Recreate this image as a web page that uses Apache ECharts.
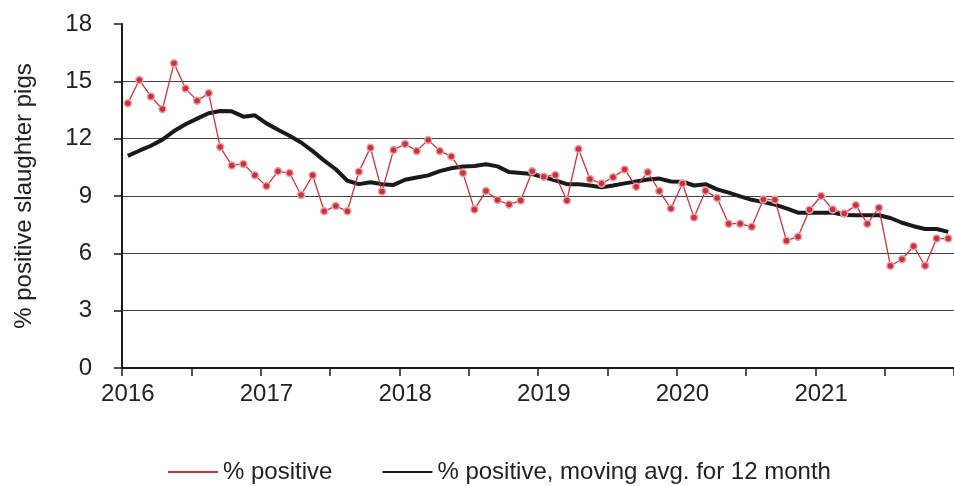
<!DOCTYPE html>
<html>
<head>
<meta charset="utf-8">
<script src="https://cdn.jsdelivr.net/npm/echarts@6/dist/echarts.min.js"></script>
<style>
  html, body { margin: 0; padding: 0; background: #fff; }
  #main { width: 954px; height: 486px; }
</style>
</head>
<body>
<div id="main"></div>
<script>
var years = ['2016', '2017', '2018', '2019', '2020', '2021'];

// one category per month, Jan 2016 .. Dec 2021
var months = [];
years.forEach(function (y) {
  for (var m = 1; m <= 12; m++) months.push(y + '-' + (m < 10 ? '0' + m : m));
});

var positive = [
  13.85, 15.07, 14.2, 13.55, 15.94, 14.62, 13.99, 14.37, 11.56, 10.6, 10.68, 10.08,
  9.52, 10.29, 10.2, 9.05, 10.08, 8.2, 8.48, 8.2, 10.27, 11.53, 9.23, 11.41,
  11.72, 11.36, 11.93, 11.36, 11.07, 10.2, 8.3, 9.26, 8.79, 8.55, 8.77, 10.29,
  10.01, 10.1, 8.77, 11.46, 9.89, 9.65, 9.98, 10.39, 9.49, 10.24, 9.26, 8.34,
  9.65, 7.87, 9.27, 8.9, 7.55, 7.55, 7.39, 8.82, 8.81, 6.66, 6.87, 8.28,
  9.0, 8.3, 8.09, 8.51, 7.55, 8.39, 5.35, 5.69, 6.37, 5.35, 6.77, 6.77
];

var movingAvg = [
  11.1, 11.37, 11.63, 11.95, 12.4, 12.75, 13.05, 13.33, 13.45, 13.43, 13.15, 13.22,
  12.8, 12.47, 12.15, 11.8, 11.35, 10.85, 10.4, 9.8, 9.62, 9.72, 9.62, 9.58,
  9.85, 9.97, 10.08, 10.3, 10.45, 10.54, 10.57, 10.66, 10.55, 10.25, 10.2, 10.15,
  9.98, 9.82, 9.62, 9.61, 9.55, 9.45, 9.55, 9.66, 9.76, 9.86, 9.91, 9.76,
  9.75, 9.55, 9.62, 9.35, 9.18, 8.98, 8.8, 8.68, 8.55, 8.35, 8.13, 8.13,
  8.13, 8.13, 8.0, 7.99, 7.99, 7.99, 7.85, 7.6, 7.42, 7.27, 7.27, 7.12
];

var font = 'Liberation Sans';
var myChart = echarts.init(document.getElementById('main'));

myChart.setOption({
  animation: false,
  textStyle: { fontFamily: font },
  grid: { left: 122, right: 0, top: 24, bottom: 118 },
  legend: {
    left: 163,
    top: 455,
    icon: 'rect',
    itemWidth: 50,
    itemHeight: 2,
    itemGap: 50,
    textStyle: { fontSize: 24, color: '#222', fontFamily: font },
    data: [
      { name: '% positive', itemStyle: { color: '#c8353f', borderWidth: 0 } },
      { name: '% positive, moving avg. for 12 month', itemStyle: { color: '#1a1a1a', borderWidth: 0 } }
    ]
  },
  xAxis: {
    type: 'category',
    data: months,
    boundaryGap: true,
    axisLine: { show: true, lineStyle: { color: '#1a1a1a', width: 2 } },
    axisTick: { show: true, inside: false, interval: 5, length: 8, lineStyle: { color: '#1a1a1a', width: 1.5 } },
    axisLabel: {
      interval: 11,
      margin: 14,
      fontSize: 24,
      color: '#222',
      formatter: function (v) { return v.slice(0, 4); }
    },
    splitLine: { show: false }
  },
  yAxis: {
    type: 'value',
    min: 0,
    max: 18,
    interval: 3,
    name: '% positive slaughter pigs',
    nameLocation: 'middle',
    nameRotate: 90,
    nameGap: 86,
    nameTextStyle: { fontSize: 24, color: '#222' },
    axisLine: { show: true, lineStyle: { color: '#1a1a1a', width: 2 } },
    axisTick: { show: true, inside: false, length: 8, lineStyle: { color: '#1a1a1a', width: 1.5 } },
    axisLabel: { margin: 30, fontSize: 24, color: '#222' },
    splitLine: { show: true, showMaxLine: false, lineStyle: { color: '#444', width: 1 } }
  },
  series: [
    {
      name: '% positive',
      type: 'line',
      data: positive,
      symbol: 'circle',
      symbolSize: 7,
      lineStyle: { color: '#c8353f', width: 1.3 },
      itemStyle: { color: '#c8323c', borderColor: '#eba3a6', borderWidth: 1.5 },
      z: 3
    },
    {
      name: '% positive, moving avg. for 12 month',
      type: 'line',
      data: movingAvg,
      showSymbol: false,
      symbol: 'none',
      lineStyle: { color: '#1a1a1a', width: 4 },
      itemStyle: { color: '#1a1a1a' },
      z: 2
    }
  ]
});
</script>
</body>
</html>
